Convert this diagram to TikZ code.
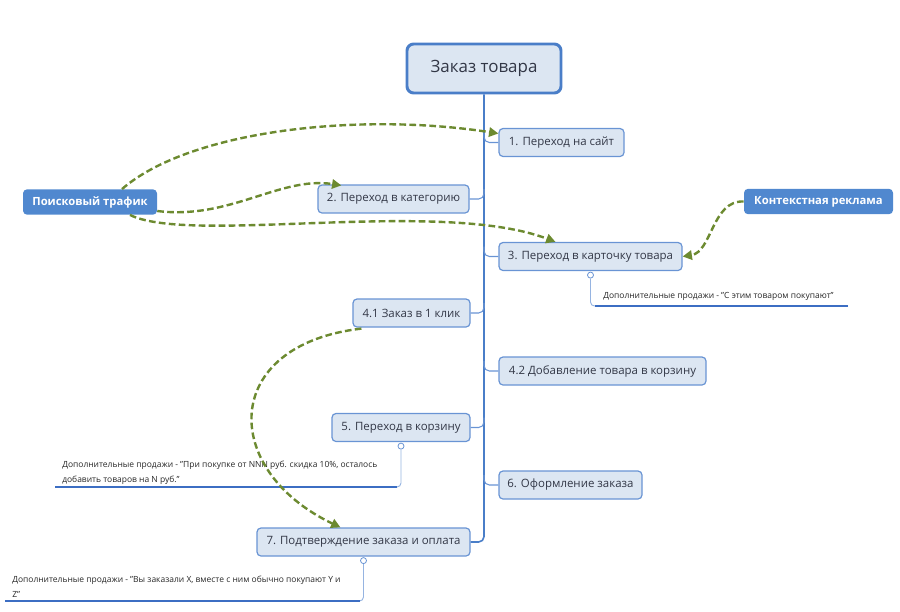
\documentclass[tikz,border=0pt]{standalone}
\usepackage{fontspec}
\setmainfont{Open Sans}
\usetikzlibrary{arrows.meta,calc}
\definecolor{boxfill}{RGB}{220,230,242}
\definecolor{boxline}{RGB}{105,148,212}
\definecolor{rootline}{RGB}{74,126,200}
\definecolor{srcfill}{RGB}{80,136,207}
\definecolor{flowgreen}{RGB}{108,138,48}
\definecolor{noteline}{RGB}{60,110,195}
\definecolor{topictext}{RGB}{50,55,70}
\tikzset{
  root/.style={draw=rootline, line width=2.2pt, fill=boxfill, rounded corners=5pt,
    minimum width=115.5pt, minimum height=36.75pt, text=topictext,
    font=\fontsize{12.7}{14}\selectfont},
  topic/.style={draw=boxline, line width=0.9pt, fill=boxfill, rounded corners=3pt,
    minimum height=21pt, inner xsep=0pt, text=topictext,
    font=\fontsize{8.6}{10}\selectfont},
  source/.style={fill=srcfill, rounded corners=3pt, minimum height=19pt,
    inner xsep=0pt, text=white, font=\fontsize{8.45}{10}\selectfont\bfseries},
  trunk/.style={draw=rootline, line width=1.2pt, rounded corners=4pt},
  branch/.style={draw=boxline, line width=0.8pt, rounded corners=4pt},
  knob/.style={circle, draw=boxline, fill=white, line width=0.6pt, inner sep=0pt, minimum size=4.5pt},
  stem/.style={draw=boxline!70, line width=0.7pt, rounded corners=3pt},
  noteline/.style={draw=noteline, line width=1.1pt},
  notetext/.style={inner sep=0pt, align=left, text=black!85,
    font=\fontsize{6.35}{11.25}\selectfont},
  flow/.style={draw=flowgreen, line width=1.8pt, dash pattern=on 5pt off 2.5pt,
    -{Triangle[length=7pt,width=7pt]}}
}
\begin{document}
\begin{tikzpicture}[x=0.75pt,y=0.75pt,yscale=-1,xscale=1]
\useasboundingbox (0,0) rectangle (900,611);

% Central topic
\node[root] (order) at (484,68.5) {Заказ товара};

% Topics right of the trunk
\node[topic, minimum width=93.75pt] (site) at (561.5,142.5) {1. Переход на сайт};
\node[topic, minimum width=137.25pt] (card) at (590.5,256.5) {3. Переход в карточку товара};
\node[topic, minimum width=155.25pt] (basketadd) at (602.5,371) {4.2 Добавление товара в корзину};
\node[topic, minimum width=107.25pt] (checkout) at (570.5,485) {6. Оформление заказа};

% Topics left of the trunk
\node[topic, minimum width=113.25pt] (category) at (393.5,199) {2. Переход в категорию};
\node[topic, minimum width=87.75pt] (oneclick) at (411.5,313) {4.1 Заказ в 1 клик};
\node[topic, minimum width=103.5pt] (basket) at (401,427.5) {5. Переход в корзину};
\node[topic, minimum width=159.75pt] (confirm) at (363.5,542) {7. Подтверждение заказа и оплата};

% Traffic sources
\node[source, minimum width=100.5pt] (search) at (90,202) {Поисковый трафик};
\node[source, minimum width=111.75pt] (context) at (818.5,201.5) {Контекстная реклама};

% Trunk and branches
\draw[trunk] (order.south) |- (confirm.east);
\draw[branch] (order.south |- site.west) ++(0,-10) |- (site.west);
\draw[branch] (order.south |- card.west) ++(0,-10) |- (card.west);
\draw[branch] (order.south |- basketadd.west) ++(0,-10) |- (basketadd.west);
\draw[branch] (order.south |- checkout.west) ++(0,-10) |- (checkout.west);
\draw[branch] (order.south |- category.east) ++(0,-10) |- (category.east);
\draw[branch] (order.south |- oneclick.east) ++(0,-10) |- (oneclick.east);
\draw[branch] (order.south |- basket.east) ++(0,-10) |- (basket.east);

% Notes
\node[knob] (k3) at ($(card.south)+(0,4)$) {};
\coordinate (e3) at (848,306);
\draw[stem] (k3.south) |- (e3);
\draw[noteline] (k3.south |- e3) ++(4,0) -- (e3);
\node[notetext, anchor=base west] (note3) at (603,298) {Дополнительные продажи - "С этим товаром покупают"};

\node[knob] (k5) at ($(basket.south)+(0,4)$) {};
\coordinate (e5) at (55,487);
\draw[stem] (k5.south) |- (e5);
\draw[noteline] (k5.south |- e5) ++(-4,0) -- (e5);
\node[notetext, anchor=north west] (note5) at (62,461) {Дополнительные продажи - "При покупке от NNN руб. скидка 10\%, осталось\\добавить товаров на N руб."};

\node[knob] (k7) at ($(confirm.south)+(0,4)$) {};
\coordinate (e7) at (5,601);
\draw[stem] (k7.south) |- (e7);
\draw[noteline] (k7.south |- e7) ++(-4,0) -- (e7);
\node[notetext, anchor=north west] (note7) at (12,576) {Дополнительные продажи - "Вы заказали X, вместе с ним обычно покупают Y и\\Z"};

% Traffic flows
\draw[flow] ($(search.north)+(32,0)$) .. controls (190,130) and (360,112) .. ($(site.west)+(0,-9)$);
\draw[flow] ($(search.east)+(0,9)$) .. controls (230,220) and (280,176) .. ($(category.north west)+(24,1)$);
\draw[flow] ($(search.south)+(40,0)$) .. controls (190,245) and (440,198) .. ($(card.north)+(-35,0)$);
\draw[flow] (context.west) .. controls (712,200) and (712,252) .. (card.east);
\draw[flow] ($(oneclick.south west)+(9,1)$) .. controls (220,345) and (220,470) .. ($(confirm.north)+(-23,0)$);

\end{tikzpicture}
\end{document}
